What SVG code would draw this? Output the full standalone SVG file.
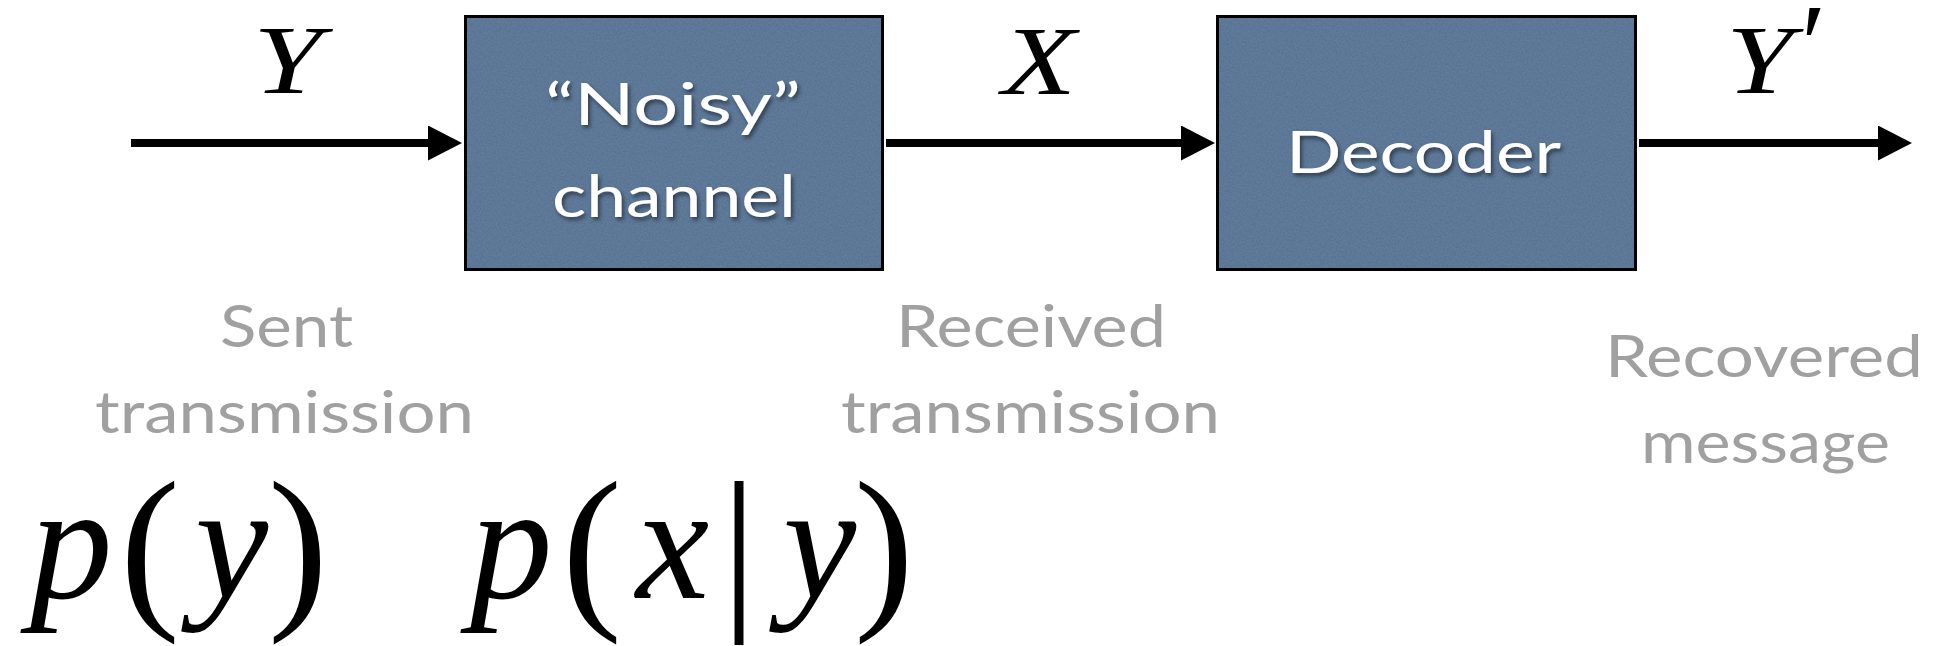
<svg xmlns="http://www.w3.org/2000/svg" width="1935" height="646" viewBox="0 0 1935 646">
  <style>
    .box { fill: #5f7b9b; stroke: #000; stroke-width: 5; }
    .boxlabel { font-family: Lato, "Open Sans", sans-serif; font-size: 58px; fill: #fff; }
    .note { font-family: Lato, "Open Sans", sans-serif; font-size: 58px; fill: #a0a0a0; }
    .wire { stroke: #000; stroke-width: 8; fill: none; marker-end: url(#head); }
    .math { font-family: "Liberation Serif", "DejaVu Serif", serif; fill: #000; }
    .it { font-style: italic; }
  </style>
  <defs>
    <marker id="head" markerUnits="userSpaceOnUse" markerWidth="36" markerHeight="36" refX="14" refY="17.5" orient="auto">
      <path d="M0,0 L34,17.5 L0,35 Z" fill="#000"/>
    </marker>
    <!-- fine grain on the block fill -->
    <filter id="grain" x="0" y="0" width="100%" height="100%">
      <feTurbulence type="fractalNoise" baseFrequency="0.55" numOctaves="3" seed="7" result="noise"/>
      <feColorMatrix in="noise" type="matrix" values="0 0 0 0 0  0 0 0 0 0  0 0 0 0 0  0.35 0 0 0 -0.12" result="speck"/>
      <feComposite in="speck" in2="SourceGraphic" operator="atop"/>
    </filter>
    <filter id="shade" x="-10%" y="-20%" width="120%" height="150%">
      <feDropShadow dx="2" dy="3" stdDeviation="2" flood-color="#000" flood-opacity="0.5"/>
    </filter>
  </defs>

  <!-- connectors with their signal names -->
  <g id="connectors">
    <line class="wire" x1="131" y1="143" x2="442" y2="143"/>
    <line class="wire" x1="886" y1="143" x2="1195" y2="143"/>
    <line class="wire" x1="1639" y1="143" x2="1892" y2="143"/>
    <text class="math it" x="253" y="93" font-size="98" textLength="69" lengthAdjust="spacingAndGlyphs">Y</text>
    <text class="math it" x="1002" y="94" font-size="98" textLength="74" lengthAdjust="spacingAndGlyphs">X</text>
    <text class="math it" x="1726" y="93" font-size="98" textLength="67" lengthAdjust="spacingAndGlyphs">Y</text>
    <text class="math it" x="1794" y="83" font-size="115">′</text>
  </g>

  <!-- channel block -->
  <g id="channel">
    <rect class="box" x="464.5" y="15.5" width="419" height="255" filter="url(#grain)"/>
    <g filter="url(#shade)">
      <text class="boxlabel" x="545" y="125" textLength="256" lengthAdjust="spacingAndGlyphs">“Noisy”</text>
      <text class="boxlabel" x="552" y="217" textLength="244" lengthAdjust="spacingAndGlyphs">channel</text>
    </g>
  </g>

  <!-- decoder block -->
  <g id="decoder">
    <rect class="box" x="1216.5" y="15.5" width="420" height="255" filter="url(#grain)"/>
    <text class="boxlabel" x="1286" y="173" textLength="275" lengthAdjust="spacingAndGlyphs" filter="url(#shade)">Decoder</text>
  </g>

  <!-- annotations under the chain -->
  <g id="sent">
    <text class="note" x="220" y="347" textLength="133" lengthAdjust="spacingAndGlyphs">Sent</text>
    <text class="note" x="95" y="433" textLength="379" lengthAdjust="spacingAndGlyphs">transmission</text>
  </g>
  <g id="received">
    <text class="note" x="896" y="347" textLength="270" lengthAdjust="spacingAndGlyphs">Received</text>
    <text class="note" x="841" y="433" textLength="379" lengthAdjust="spacingAndGlyphs">transmission</text>
  </g>
  <g id="recovered">
    <text class="note" x="1605" y="377" textLength="318" lengthAdjust="spacingAndGlyphs">Recovered</text>
    <text class="note" x="1641" y="463" textLength="249" lengthAdjust="spacingAndGlyphs">message</text>
  </g>

  <!-- probability expressions -->
  <g id="prior" class="math">
    <text class="it" x="30" y="598" font-size="165">p</text>
    <text x="120" y="606" font-size="180">(</text>
    <text class="it" x="195" y="598" font-size="165">y</text>
    <text x="268" y="606" font-size="180">)</text>
  </g>
  <g id="likelihood" class="math">
    <text class="it" x="470" y="598" font-size="165">p</text>
    <text x="562" y="606" font-size="180">(</text>
    <text class="it" x="636" y="598" font-size="165">x</text>
    <text x="721" y="606" font-size="180">|</text>
    <text class="it" x="783" y="598" font-size="165">y</text>
    <text x="854" y="606" font-size="180">)</text>
  </g>
</svg>
